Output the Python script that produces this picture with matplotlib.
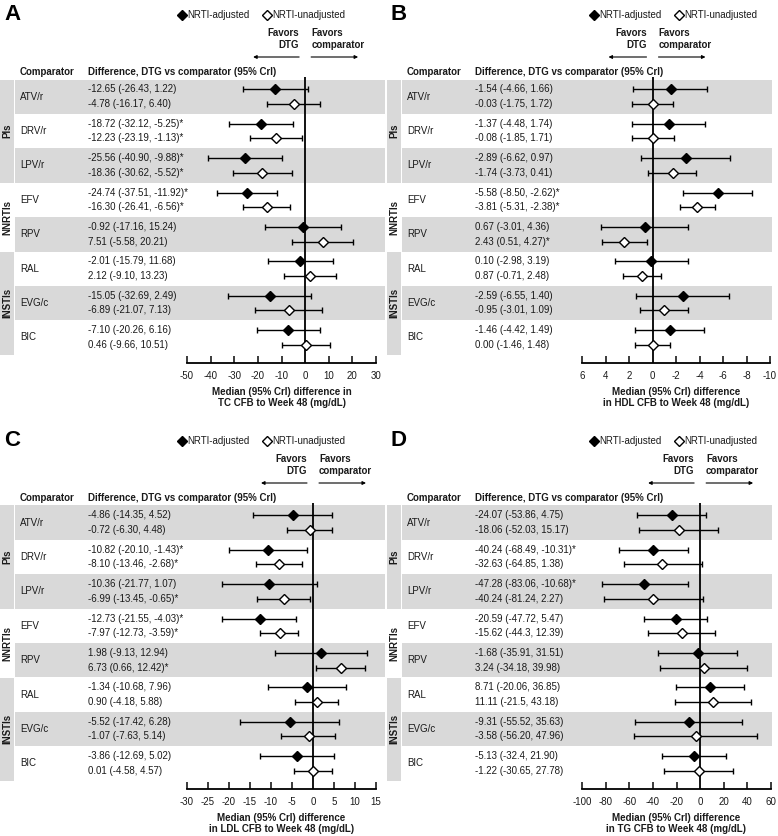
import re
import matplotlib
matplotlib.use("Agg")
import matplotlib.pyplot as plt
from matplotlib import transforms
from matplotlib.lines import Line2D
from matplotlib.patches import Rectangle, FancyArrowPatch

plt.rcParams['font.family'] = ['Liberation Sans', 'DejaVu Sans']
plt.rcParams['axes.unicode_minus'] = False

W, H = 778, 836
GRAY = "#d9d9d9"
INK = "#1a1a1a"

comparators = ["ATV/r", "DRV/r", "LPV/r", "EFV", "RPV", "RAL", "EVG/c", "BIC"]
groups = ["PIs", "NNRTIs", "INSTIs"]
group_blocks = [(0, 3), (3, 5), (5, 8)]
shaded_rows = [0, 2, 4, 6]
shaded_groups = [0, 2]

# median (95% CrI) per comparator, as printed
tc_adj = ["-12.65 (-26.43, 1.22)", "-18.72 (-32.12, -5.25)*", "-25.56 (-40.90, -9.88)*",
          "-24.74 (-37.51, -11.92)*", "-0.92 (-17.16, 15.24)", "-2.01 (-15.79, 11.68)",
          "-15.05 (-32.69, 2.49)", "-7.10 (-20.26, 6.16)"]
tc_unadj = ["-4.78 (-16.17, 6.40)", "-12.23 (-23.19, -1.13)*", "-18.36 (-30.62, -5.52)*",
            "-16.30 (-26.41, -6.56)*", "7.51 (-5.58, 20.21)", "2.12 (-9.10, 13.23)",
            "-6.89 (-21.07, 7.13)", "0.46 (-9.66, 10.51)"]

hdl_adj = ["-1.54 (-4.66, 1.66)", "-1.37 (-4.48, 1.74)", "-2.89 (-6.62, 0.97)",
           "-5.58 (-8.50, -2.62)*", "0.67 (-3.01, 4.36)", "0.10 (-2.98, 3.19)",
           "-2.59 (-6.55, 1.40)", "-1.46 (-4.42, 1.49)"]
hdl_unadj = ["-0.03 (-1.75, 1.72)", "-0.08 (-1.85, 1.71)", "-1.74 (-3.73, 0.41)",
             "-3.81 (-5.31, -2.38)*", "2.43 (0.51, 4.27)*", "0.87 (-0.71, 2.48)",
             "-0.95 (-3.01, 1.09)", "0.00 (-1.46, 1.48)"]

ldl_adj = ["-4.86 (-14.35, 4.52)", "-10.82 (-20.10, -1.43)*", "-10.36 (-21.77, 1.07)",
           "-12.73 (-21.55, -4.03)*", "1.98 (-9.13, 12.94)", "-1.34 (-10.68, 7.96)",
           "-5.52 (-17.42, 6.28)", "-3.86 (-12.69, 5.02)"]
ldl_unadj = ["-0.72 (-6.30, 4.48)", "-8.10 (-13.46, -2.68)*", "-6.99 (-13.45, -0.65)*",
             "-7.97 (-12.73, -3.59)*", "6.73 (0.66, 12.42)*", "0.90 (-4.18, 5.88)",
             "-1.07 (-7.63, 5.14)", "0.01 (-4.58, 4.57)"]

tg_adj = ["-24.07 (-53.86, 4.75)", "-40.24 (-68.49, -10.31)*", "-47.28 (-83.06, -10.68)*",
          "-20.59 (-47.72, 5.47)", "-1.68 (-35.91, 31.51)", "8.71 (-20.06, 36.85)",
          "-9.31 (-55.52, 35.63)", "-5.13 (-32.4, 21.90)"]
tg_unadj = ["-18.06 (-52.03, 15.17)", "-32.63 (-64.85, 1.38)", "-40.24 (-81.24, 2.27)",
            "-15.62 (-44.3, 12.39)", "3.24 (-34.18, 39.98)", "11.11 (-21.5, 43.18)",
            "-3.58 (-56.20, 47.96)", "-1.22 (-30.65, 27.78)"]

tc_ticks = [-50, -40, -30, -20, -10, 0, 10, 20, 30]
hdl_ticks = [6, 4, 2, 0, -2, -4, -6, -8, -10]
ldl_ticks = [-30, -25, -20, -15, -10, -5, 0, 5, 10, 15]
tg_ticks = [-100, -80, -60, -40, -20, 0, 20, 40, 60]


def fx(px):
    return px / W


def fy(py):
    return 1 - py / H


def parse(labels):
    med, lo, hi = [], [], []
    for s in labels:
        m, a, b = [float(v) for v in re.findall(r"-?\d+\.?\d*", s)[:3]]
        med.append(m)
        lo.append(a)
        hi.append(b)
    return med, lo, hi


fig = plt.figure(figsize=(W / 100, H / 100), dpi=100)

ROW_TOP = 79.5   # px of first block top inside a panel
ROW_H = 34.4     # px per comparator block


def draw_panel(letter, dx, dy, adj, unadj, ticks, ax_px, xlabel, leg_x, larrow=46):
    x0, x1 = ax_px
    top, bottom = 77 + dy, 363 + dy
    ax = fig.add_axes([fx(x0), fy(bottom), (x1 - x0) / W, (bottom - top) / H])
    ax.patch.set_visible(False)
    trans = transforms.blended_transform_factory(fig.transFigure, ax.transData)

    # shading
    for k in shaded_rows:
        ax.add_artist(Rectangle((fx(15 + dx), k), 370 / W, 1, transform=trans,
                                facecolor=GRAY, edgecolor="none", clip_on=False, zorder=0))
    for g in shaded_groups:
        s, e = group_blocks[g]
        ax.add_artist(Rectangle((fx(dx), s), 14 / W, e - s, transform=trans,
                                facecolor=GRAY, edgecolor="none", clip_on=False, zorder=0))
    for g, (s, e) in zip(groups, group_blocks):
        ax.text(fx(7 + dx), (s + e) / 2, g, transform=trans, rotation=90, ha="center",
                va="center", fontsize=7, fontweight="bold", color=INK)

    # table text
    ax.text(fx(20 + dx), -0.22, "Comparator", transform=trans, ha="left", va="center",
            fontsize=7, fontweight="bold", color=INK)
    ax.text(fx(88 + dx), -0.22, "Difference, DTG vs comparator (95% CrI)", transform=trans,
            ha="left", va="center", fontsize=7, fontweight="bold", color=INK)
    for k, name in enumerate(comparators):
        ax.text(fx(20 + dx), k + 0.5, name, transform=trans, ha="left", va="center",
                fontsize=7, color=INK)
        ax.text(fx(88 + dx), k + 0.29, adj[k], transform=trans, ha="left", va="center",
                fontsize=7, color=INK)
        ax.text(fx(88 + dx), k + 0.71, unadj[k], transform=trans, ha="left", va="center",
                fontsize=7, color=INK)

    # forest marks
    ax.axvline(0, color="black", lw=1.3, zorder=1.5)
    for labels, off, face in [(adj, 0.29, "black"), (unadj, 0.71, "white")]:
        med, lo, hi = parse(labels)
        ys = [k + off for k in range(len(med))]
        ax.errorbar(med, ys, xerr=[[m - a for m, a in zip(med, lo)],
                                   [b - m for m, b in zip(med, hi)]],
                    fmt="none", ecolor="black", elinewidth=1, capsize=2.5, capthick=1, zorder=2)
        ax.plot(med, ys, "D", ms=5.2, mfc=face, mec="black", mew=1, zorder=3)

    ax.set_xlim(ticks[0], ticks[-1])
    ax.set_ylim((bottom - dy - ROW_TOP) / ROW_H, (top - dy - ROW_TOP) / ROW_H)
    ax.set_xticks(ticks)
    ax.set_xticklabels([str(t) for t in ticks])
    ax.set_yticks([])
    for side in ["left", "top", "right"]:
        ax.spines[side].set_visible(False)
    ax.spines["bottom"].set_linewidth(1.3)
    ax.tick_params(axis="x", direction="in", length=5, width=1.2, labelsize=7, pad=6,
                   colors=INK)
    ax.set_xlabel(xlabel, fontsize=7, fontweight="bold", labelpad=4, color=INK)

    # header: letter, legend, favors
    fig.text(fx(4 + dx), fy(14 + dy), letter, fontsize=16, fontweight="bold",
             ha="left", va="center")
    fig.add_artist(Line2D([fx(leg_x)], [fy(15 + dy)], marker="D", ms=5.2, mfc="black",
                          mec="black", mew=1, transform=fig.transFigure))
    fig.text(fx(leg_x + 5), fy(15 + dy), "NRTI-adjusted", fontsize=7, ha="left",
             va="center", color=INK)
    fig.add_artist(Line2D([fx(leg_x + 85)], [fy(15 + dy)], marker="D", ms=5.2, mfc="white",
                          mec="black", mew=1, transform=fig.transFigure))
    fig.text(fx(leg_x + 90), fy(15 + dy), "NRTI-unadjusted", fontsize=7, ha="left",
             va="center", color=INK)

    zpx = x0 + (0 - ticks[0]) / (ticks[-1] - ticks[0]) * (x1 - x0)
    fig.text(fx(zpx - 6), fy(39 + dy), "Favors\nDTG", fontsize=7, fontweight="bold",
             ha="right", va="center", multialignment="right", color=INK)
    fig.text(fx(zpx + 6), fy(39 + dy), "Favors\ncomparator", fontsize=7, fontweight="bold",
             ha="left", va="center", multialignment="left", color=INK)
    for a, b in [(zpx - 6, zpx - 6 - larrow), (zpx + 6, zpx + 53)]:
        fig.add_artist(FancyArrowPatch((fx(a), fy(57 + dy)), (fx(b), fy(57 + dy)),
                                       transform=fig.transFigure, arrowstyle="-|>",
                                       mutation_scale=5, lw=0.8, color="black",
                                       shrinkA=0, shrinkB=0))
    return ax


draw_panel("A", 0, 0, tc_adj, tc_unadj, tc_ticks, (187, 376),
           "Median (95% CrI) difference in\nTC CFB to Week 48 (mg/dL)", 182)
draw_panel("B", 387, 0, hdl_adj, hdl_unadj, hdl_ticks, (582, 770),
           "Median (95% CrI) difference\nin HDL CFB to Week 48 (mg/dL)", 594, larrow=38)
draw_panel("C", 0, 426, ldl_adj, ldl_unadj, ldl_ticks, (187, 376),
           "Median (95% CrI) difference\nin LDL CFB to Week 48 (mg/dL)", 182)
draw_panel("D", 387, 426, tg_adj, tg_unadj, tg_ticks, (582, 771),
           "Median (95% CrI) difference\nin TG CFB to Week 48 (mg/dL)", 594)

fig.savefig("out.png", dpi=100)
